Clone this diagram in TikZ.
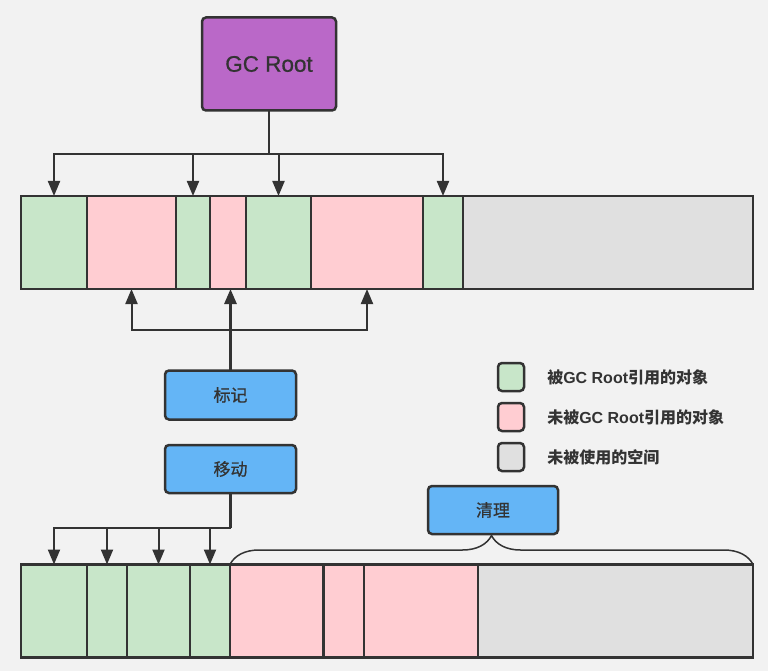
\documentclass[tikz,border=0pt]{standalone}
\usepackage{fontspec}
\setmainfont{Noto Sans CJK SC}
\newfontfamily\latinfont{Liberation Sans}
\newfontfamily\rootfont[FakeBold=0.7]{Liberation Sans}
\newfontfamily\stepfont[FakeBold=0.6]{Noto Sans CJK SC}
\usepackage{tikz}
\usetikzlibrary{arrows.meta}
\usetikzlibrary{positioning}
\usetikzlibrary{decorations.pathreplacing}
\definecolor{bg}{HTML}{F2F2F2}
\definecolor{ink}{HTML}{333333}
\definecolor{live}{HTML}{C8E6C9}
\definecolor{dead}{HTML}{FFCDD2}
\definecolor{free}{HTML}{E0E0E0}
\definecolor{rootc}{HTML}{BA68C8}
\definecolor{stepc}{HTML}{64B5F6}

\begin{document}
\begin{tikzpicture}[x=1pt,y=-1pt,>={Triangle[length=15pt,width=12pt]},line width=2pt,draw=ink,text=ink,
	cell/.style={draw,line width=2.5pt,inner sep=0pt,outer sep=0pt,minimum height=93pt},
	box/.style={draw,line width=2.5pt,rounded corners=4pt,inner sep=0pt,outer sep=0pt,fill=stepc,font=\stepfont\fontsize{17}{20}\selectfont},
	stem/.style={line width=2.8pt},
	key/.style={draw,line width=2.5pt,rounded corners=4pt,minimum width=26pt,minimum height=28pt},
	keytext/.style={right=21pt of #1,inner sep=0pt,font=\fontsize{16}{19}\selectfont\bfseries}]
			\fill[bg](0,0)rectangle(768,671);
			\useasboundingbox(0,0)rectangle(768,671);
			% GC Root and the heap before
			\node[box,fill=rootc,minimum width=134pt,minimum height=93pt,font=\rootfont\fontsize{22.5}{26}\selectfont](root)at(269,64){GC Root};
			\node[cell,fill=live,minimum width=66pt](a1)at(54,242.5){};
			\node[cell,fill=dead,minimum width=89pt](a2)at(131.5,242.5){};
			\node[cell,fill=live,minimum width=34pt](a3)at(193,242.5){};
			\node[cell,fill=dead,minimum width=36pt](a4)at(228,242.5){};
			\node[cell,fill=live,minimum width=65pt](a5)at(278.5,242.5){};
			\node[cell,fill=dead,minimum width=112pt](a6)at(367,242.5){};
			\node[cell,fill=live,minimum width=40pt](a7)at(443,242.5){};
			\node[cell,fill=free,minimum width=290pt](a8)at(608,242.5){};
			\coordinate(rj)at(269,154);
			\draw[stem](root.south)--(rj);
			\draw[->](rj)-|(a1.north);
			\draw[->](rj)-|(a3.north);
			\draw[->](rj)-|(a5.north);
			\draw[->](rj)-|(a7.north);
			% steps
			\node[box,minimum width=131pt,minimum height=49pt](mark)at(230.5,395){标记};
			\node[box,minimum width=131pt,minimum height=48pt](move)at(230.5,469){移动};
			\node[box,minimum width=130pt,minimum height=48pt](clean)at(493,510){清理};
			\coordinate(mj)at(230.5,330);
			\draw[->,stem](mark.north)--(mark.north|-a4.south);
			\draw[->](mj)-|(a2.south);
			\draw[->](mj)-|(a6.south);
			% the heap after
			\node[cell,fill=live,minimum width=66pt](b1)at(54,611){};
			\node[cell,fill=live,minimum width=40pt](b2)at(107,611){};
			\node[cell,fill=live,minimum width=63pt](b3)at(158.5,611){};
			\node[cell,fill=live,minimum width=40pt](b4)at(210,611){};
			\node[cell,fill=dead,minimum width=93.5pt](b5)at(276.75,611){};
			\node[cell,fill=dead,minimum width=40.5pt](b6)at(343.75,611){};
			\node[cell,fill=dead,minimum width=114pt](b7)at(421,611){};
			\node[cell,fill=free,minimum width=275pt](b8)at(615.5,611){};
			\coordinate(vj)at(230.5,528);
			\draw[stem](move.south)--(vj);
			\draw[->](vj)-|(b1.north);
			\draw[->](vj)-|(b2.north);
			\draw[->](vj)-|(b3.north);
			\draw[->](vj)-|(b4.north);
			\draw[decorate,decoration={brace,amplitude=29pt},line width=1.5pt](b5.north west)--(b8.north east);
			% legend
			\node[key,fill=live](k1)at(511,377){};
			\node[key,fill=dead](k2)at(511,417){};
			\node[key,fill=free](k3)at(511,457){};
			\node[keytext=k1]{被{\latinfont\bfseries GC Root}引用的对象};
			\node[keytext=k2]{未被{\latinfont\bfseries GC Root}引用的对象};
			\node[keytext=k3]{未被使用的空间};
		\end{tikzpicture}
\end{document}
